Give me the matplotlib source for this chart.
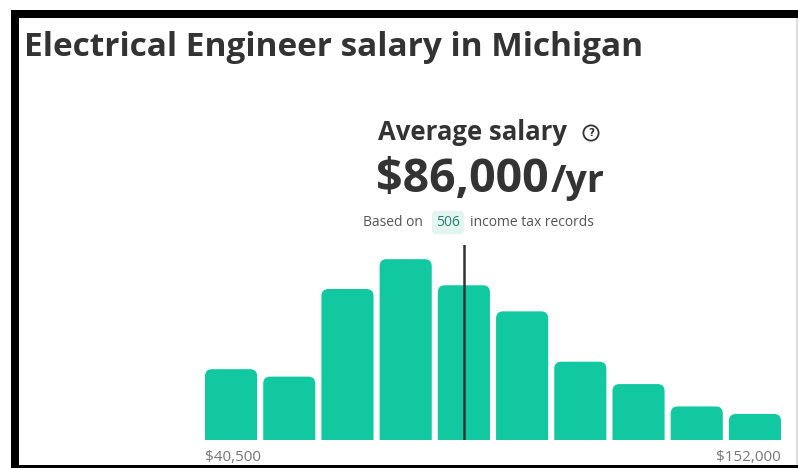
import matplotlib.pyplot as plt
from matplotlib.patches import FancyBboxPatch, Rectangle
import numpy as np

# histogram of salaries (approx. record counts per bin, total 506)
counts = [38, 34, 81, 97, 83, 69, 42, 30, 18, 14]
low_label = "$40,500"
high_label = "$152,000"
avg_bin = 4  # the average line sits in the middle of bin 5
title = "Electrical Engineer salary in Michigan"
avg_text = "$86,000"
records = "506"

TEAL = '#12c8a0'
DARK = '#333333'

W, H = 798, 468
fig = plt.figure(figsize=(W / 100, H / 100), dpi=100)
fig.patch.set_facecolor('white')

def px(x, y, w, h):
    # pixel box (from top-left) -> figure fraction
    return [x / W, 1 - (y + h) / H, w / W, h / H]

# black frame around the screenshot
for (x, y, w, h, c) in [(11, 10, 787, 8, 'black'), (11, 10, 8, 458, 'black'),
                        (11, 465, 787, 3, 'black'), (796, 18, 2, 447, '#dddddd')]:
    b = px(x, y, w, h)
    fig.patches.append(Rectangle((b[0], b[1]), b[2], b[3], transform=fig.transFigure,
                                 facecolor=c, edgecolor='none', zorder=10))

fig.text(24 / W, 1 - 56 / H, title, fontsize=24, fontweight='bold',
         color=DARK, family='Open Sans', ha='left', va='baseline')

fig.text(472 / W, 1 - 140 / H, "Average salary", fontsize=18.5, fontweight='bold',
         color=DARK, family='Open Sans', ha='center', va='baseline')
fig.text(591 / W, 1 - 133 / H, "?", fontsize=7.5, fontweight='bold', color=DARK,
         ha='center', va='center',
         bbox=dict(boxstyle='circle,pad=0.25', fc='white', ec=DARK, lw=1.3))
fig.text(549 / W, 1 - 192 / H, avg_text, fontsize=33.5, fontweight='bold',
         color=DARK, family='Open Sans', ha='right', va='baseline')
fig.text(551 / W, 1 - 192 / H, "/yr", fontsize=27, fontweight='bold',
         color=DARK, family='Open Sans', ha='left', va='baseline')

fig.text(423 / W, 1 - 226 / H, "Based on", fontsize=10, color='#555555',
         family='Open Sans', ha='right', va='baseline')
fig.text(448 / W, 1 - 226 / H, records, fontsize=10, color='#2a7f73',
         family='Open Sans', ha='center', va='baseline',
         bbox=dict(boxstyle='round,pad=0.3', fc='#e3f5f0', ec='none'))
fig.text(470 / W, 1 - 226 / H, "income tax records", fontsize=10, color='#555555',
         family='Open Sans', ha='left', va='baseline')

# histogram axes
ax_left, ax_w = 205, 576
ax_top, ax_bot = 245, 440
ax = fig.add_axes(px(ax_left, ax_top, ax_w, ax_bot - ax_top))
x = np.arange(len(counts))
width = 0.895
xlim = (-width / 2, len(counts) - 1 + width / 2)
ymax = 104.6
ax.set_xlim(*xlim)
ax.set_ylim(0, ymax)
ax.axis('off')

# rounded tops: aspect of y units vs x units per pixel
xpp = (xlim[1] - xlim[0]) / ax_w
ypp = ymax / (ax_bot - ax_top)
aspect = ypp / xpp
r = 7 * xpp
bars = ax.bar(x, counts, width=width, color='none')
for b in bars:
    p = FancyBboxPatch((b.get_x(), -10), b.get_width(), b.get_height() + 10,
                       boxstyle=f'round,pad=0,rounding_size={r}',
                       mutation_aspect=aspect, fc=TEAL, ec='none')
    ax.add_patch(p)

ax.axvline(x[avg_bin], ymin=0, ymax=1, color=DARK, lw=1.8)

ax.text(xlim[0], -0.05, low_label, transform=ax.get_xaxis_transform(),
        ha='left', va='top', fontsize=11, color='#777777', family='Open Sans')
ax.text(xlim[1], -0.05, high_label, transform=ax.get_xaxis_transform(),
        ha='right', va='top', fontsize=11, color='#777777', family='Open Sans')

fig.savefig('out.png', dpi=100)
